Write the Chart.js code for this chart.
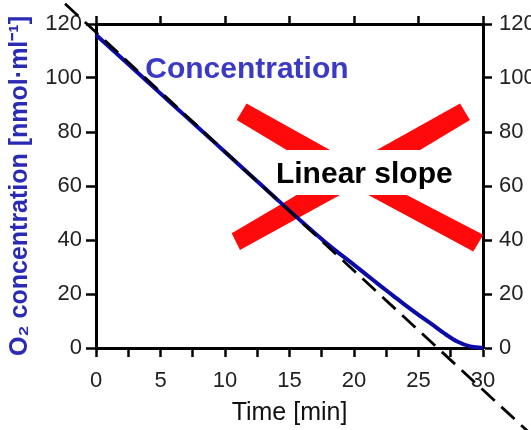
<!DOCTYPE html>
<html lang="en">
<head>
    <meta charset="UTF-8">
    <title>O2 Concentration</title>
    <script src="https://cdn.jsdelivr.net/npm/chart.js"></script>
    <style>
        html, body { margin: 0; padding: 0; background: #fff; overflow: hidden; }
        #wrap { width: 560px; height: 430px; }
    </style>
</head>
<body>
    <div id="wrap">
        <canvas id="o2Chart" width="560" height="430"></canvas>
    </div>

    <script>
        // Data
        const times = [0, 2, 4, 6, 8, 10, 12, 14, 16, 18, 20, 21, 22, 23, 24, 25, 26, 27, 28, 29, 30];
        const concentration = [116, 107.3, 98.6, 89.9, 81.3, 72.6, 63.9, 55.2, 46.6, 38.3, 30.8, 27.0, 23.2, 19.5, 15.8, 12.3, 8.9, 5.4, 2.4, 0.6, 0.1];
        const slopeTimes = [-2.4, 33.8];
        const slopeValues = [127.5, -32.3];

        const FONT = "'Liberation Sans', Arial, sans-serif";

        // Red cross (annotation, in data units) and labels
        const crossBars = [
            [[11.67, 90.6], [18.14, 73.3], [14.78, 73.3], [10.91, 84.4]],
            [[28.22, 90.6], [28.99, 84.4], [25.12, 73.3], [21.76, 73.3]],
            [[15.56, 56.7], [18.91, 56.7], [11.16, 36.3], [10.52, 42.5]],
            [[21.11, 56.7], [24.09, 56.7], [30.02, 41.9], [29.25, 35.7]]
        ];
        const notes = [
            { text: 'Concentration', x: 11.7, y: 99.9, color: '#3a3ac6' },
            { text: 'Linear slope', x: 20.8, y: 61.0, color: '#000' }
        ];

        const decorations = {
            id: 'decorations',
            beforeDatasetsDraw(chart) {
                const { ctx, scales: { x, y } } = chart;
                ctx.save();
                ctx.fillStyle = '#ff0a0a';
                crossBars.forEach(bar => {
                    ctx.beginPath();
                    bar.forEach(([t, v], i) => {
                        const px = x.getPixelForValue(t), py = y.getPixelForValue(v);
                        if (i === 0) ctx.moveTo(px, py); else ctx.lineTo(px, py);
                    });
                    ctx.closePath();
                    ctx.fill();
                });
                ctx.restore();
            },
            afterDatasetsDraw(chart) {
                const { ctx, scales: { x, y } } = chart;
                ctx.save();
                ctx.font = 'bold 30px ' + FONT;
                ctx.textAlign = 'center';
                ctx.textBaseline = 'alphabetic';
                notes.forEach(n => {
                    ctx.fillStyle = n.color;
                    ctx.fillText(n.text, x.getPixelForValue(n.x), y.getPixelForValue(n.y));
                });
                ctx.restore();
            }
        };

        const tickFont = { family: FONT, size: 22 };
        const hiddenGrid = len => ({
            drawOnChartArea: false,
            drawTicks: true,
            tickLength: len,
            tickWidth: 2.5,
            tickColor: '#000'
        });
        const axisBorder = { display: true, width: 3, color: '#000' };

        const ctx = document.getElementById('o2Chart').getContext('2d');
        new Chart(ctx, {
            type: 'line',
            data: {
                datasets: [
                    {
                        label: 'Linear slope',
                        data: slopeTimes.map((t, i) => ({ x: t, y: slopeValues[i] })),
                        borderColor: '#000',
                        borderWidth: 2.8,
                        borderDash: [18, 9],
                        pointRadius: 0,
                        clip: false
                    },
                    {
                        label: 'Concentration',
                        data: times.map((t, i) => ({ x: t, y: concentration[i] })),
                        borderColor: '#0b0ba8',
                        borderWidth: 4,
                        cubicInterpolationMode: 'monotone',
                        pointRadius: 0,
                        clip: false
                    }
                ]
            },
            options: {
                responsive: false,
                animation: false,
                devicePixelRatio: 1,
                layout: { padding: 0 },
                plugins: {
                    legend: { display: false },
                    tooltip: { enabled: false }
                },
                scales: {
                    x: {
                        type: 'linear',
                        position: 'bottom',
                        min: 0,
                        max: 30,
                        grid: hiddenGrid(9),
                        border: axisBorder,
                        ticks: {
                            stepSize: 2.5,
                            autoSkip: false,
                            maxRotation: 0,
                            padding: 11,
                            color: '#222',
                            font: tickFont,
                            callback: v => (v % 5 === 0 ? v : '')
                        },
                        title: {
                            display: true,
                            text: 'Time [min]',
                            color: '#111',
                            font: { family: FONT, size: 25, lineHeight: 1.2 },
                            padding: { top: 0, bottom: 2 }
                        },
                        afterFit: s => { s.height = 82; }
                    },
                    xTop: {
                        type: 'linear',
                        position: 'top',
                        min: 0,
                        max: 30,
                        grid: hiddenGrid(8),
                        border: axisBorder,
                        ticks: { stepSize: 5, display: false },
                        afterFit: s => { s.height = 24; }
                    },
                    y: {
                        type: 'linear',
                        position: 'left',
                        min: 0,
                        max: 120,
                        grid: hiddenGrid(10),
                        border: axisBorder,
                        ticks: {
                            stepSize: 10,
                            padding: 4,
                            color: '#222',
                            font: tickFont,
                            callback: v => (v % 20 === 0 ? v : '')
                        },
                        title: {
                            display: true,
                            text: 'O\u2082 concentration [nmol\u00b7ml\u207b\u00b9]',
                            color: '#2a2ab4',
                            font: { family: FONT, size: 25, weight: 'bold', lineHeight: 1.2 },
                            padding: { top: 5, bottom: 0 }
                        },
                        afterFit: s => { s.width = 96; }
                    },
                    yRight: {
                        type: 'linear',
                        position: 'right',
                        min: 0,
                        max: 120,
                        grid: hiddenGrid(9),
                        border: axisBorder,
                        ticks: {
                            stepSize: 10,
                            padding: 7,
                            color: '#222',
                            font: tickFont,
                            callback: v => (v % 20 === 0 ? v : '')
                        },
                        afterFit: s => { s.width = 77; }
                    }
                }
            },
            plugins: [decorations]
        });
    </script>
</body>
</html>
